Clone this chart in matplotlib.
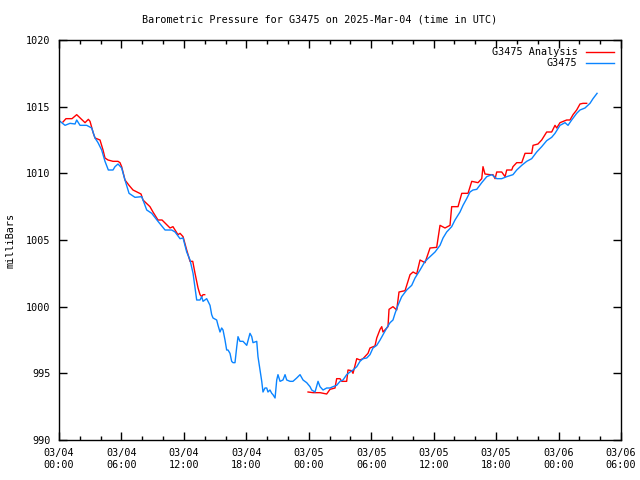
import matplotlib
matplotlib.use("Agg")
import matplotlib.pyplot as plt
import numpy as np
from matplotlib.ticker import MultipleLocator

# hours since 2025-03-04 00:00 UTC, pressure in mb
obs_hours = [0.1, 0.58, 1.06, 1.54, 1.7, 2.02, 2.66, 3.14, 3.46, 3.75, 4.1, 4.42, 4.74, 5.19, 5.38,
             5.67, 6.02, 6.34, 6.73, 7.3, 7.95, 8.43, 8.91, 9.51, 10.19, 10.83, 11.15, 11.63, 11.92,
             12.27, 12.59, 12.88, 13.07, 13.23, 13.55, 13.71, 13.84, 14.19, 14.51, 14.67, 14.8,
             15.15, 15.28, 15.47, 15.63, 15.76, 15.95, 16.11, 16.24, 16.43, 16.59, 16.72, 16.91,
             17.08, 17.2, 17.39, 17.68, 18.04, 18.35, 18.52, 18.64, 19.0, 19.12, 19.31, 19.48,
             19.6, 19.79, 19.96, 20.08, 20.27, 20.44, 20.56, 20.76, 20.92, 21.04, 21.24, 21.52,
             21.72, 21.88, 22.2, 22.48, 22.84, 23.16, 23.45, 23.8, 24.12, 24.28, 24.6, 24.89,
             25.08, 25.37, 25.72, 26.04, 26.33, 26.68, 27.0, 27.29, 27.64, 27.96, 28.25, 28.61,
             28.92, 29.21, 29.57, 29.88, 30.17, 30.53, 30.85, 31.13, 31.49, 31.81, 32.09, 32.29,
             32.57, 32.93, 33.41, 33.89, 34.21, 34.69, 35.17, 35.65, 36.13, 36.61, 36.9, 37.25,
             37.73, 38.05, 38.53, 38.82, 39.17, 39.49, 39.78, 40.14, 40.62, 41.1, 41.58, 42.06,
             42.54, 43.02, 43.62, 43.98, 44.46, 44.94, 45.42, 45.9, 46.38, 46.86, 47.34, 47.66,
             48.14, 48.62, 48.91, 49.26, 49.74, 50.06, 50.54, 51.02, 51.31, 51.7]
obs_mb = [1013.9, 1013.6, 1013.75, 1013.7, 1014.0, 1013.6, 1013.6, 1013.4, 1012.65, 1012.3, 1011.75,
          1010.9, 1010.25, 1010.25, 1010.5, 1010.7, 1010.4, 1009.5, 1008.5, 1008.2, 1008.25,
          1007.25, 1007.0, 1006.4, 1005.75, 1005.75, 1005.6, 1005.1, 1005.15, 1004.1, 1003.5,
          1002.5, 1001.4, 1000.5, 1000.5, 1000.75, 1000.4, 1000.6, 1000.1, 999.4, 999.15, 999.0,
          998.6, 998.1, 998.4, 998.25, 997.5, 996.75, 996.75, 996.5, 995.9, 995.8, 995.8, 997.0,
          997.75, 997.4, 997.4, 997.1, 998.0, 997.75, 997.3, 997.4, 996.25, 995.25, 994.4, 993.6,
          993.9, 993.9, 993.6, 993.75, 993.5, 993.4, 993.15, 994.5, 994.9, 994.4, 994.5, 994.9,
          994.5, 994.4, 994.4, 994.65, 994.9, 994.5, 994.3, 994.0, 993.75, 993.6, 994.4, 994.0,
          993.75, 993.9, 993.9, 994.0, 994.1, 994.4, 994.5, 994.9, 995.1, 995.25, 995.5, 995.9,
          996.1, 996.15, 996.4, 996.9, 997.1, 997.5, 997.9, 998.4, 998.8, 999.0, 999.5, 1000.1,
          1000.75, 1001.25, 1001.6, 1002.15, 1002.75, 1003.4, 1003.75, 1004.1, 1004.6, 1005.15,
          1005.6, 1006.0, 1006.5, 1007.1, 1007.6, 1008.1, 1008.6, 1008.75, 1008.8, 1009.3,
          1009.75, 1009.9, 1009.6, 1009.6, 1009.75, 1009.9, 1010.25, 1010.6, 1010.9, 1011.1,
          1011.6, 1012.0, 1012.45, 1012.7, 1013.0, 1013.6, 1013.8, 1013.6, 1014.0, 1014.5,
          1014.75, 1014.9, 1015.25, 1015.6, 1016.0]

# analysis series, NaN marks the gap with no analysis
ana_hours = [0.38, 0.67, 1.25, 1.7, 2.5, 2.82, 2.98, 3.3, 3.46, 3.94, 4.23, 4.42, 4.71, 5.19, 5.67,
             5.86, 6.02, 6.34, 6.73, 7.11, 7.88, 8.07, 8.74, 9.03, 9.51, 9.9, 10.67, 10.95, 11.43,
             11.63, 11.92, 12.27, 12.59, 12.85, 13.07, 13.36, 13.55, 13.71, 13.84, 14.0,
             18.0,
             23.93, 24.41, 25.08, 25.72, 26.04, 26.52, 26.68, 27.0, 27.16, 27.64, 27.77, 28.12,
             28.25, 28.61, 28.92, 29.21, 29.69, 29.88, 30.36, 30.53, 30.85, 31.01, 31.13, 31.61,
             31.71, 32.09, 32.45, 32.67, 33.25, 33.73, 34.02, 34.37, 34.69, 35.17, 35.65, 36.29,
             36.61, 37.09, 37.57, 37.73, 38.34, 38.7, 39.3, 39.66, 40.26, 40.62, 40.74, 40.93,
             41.41, 41.7, 41.9, 42.06, 42.54, 42.86, 43.02, 43.5, 43.62, 43.98, 44.46, 44.78,
             45.42, 45.55, 46.02, 46.38, 46.7, 46.86, 47.34, 47.66, 47.82, 48.14, 48.78, 49.1,
             49.39, 49.74, 50.06, 50.35, 50.7]
ana_mb = [1013.85, 1014.1, 1014.1, 1014.4, 1013.8, 1014.05, 1013.9, 1013.0, 1012.65, 1012.5,
          1011.75, 1011.15, 1011.0, 1010.9, 1010.9, 1010.8, 1010.5, 1009.5, 1009.1, 1008.75,
          1008.45, 1008.0, 1007.5, 1007.1, 1006.5, 1006.5, 1005.9, 1006.0, 1005.4, 1005.5,
          1005.25, 1004.25, 1003.4, 1003.4, 1002.5, 1001.4, 1000.9, 1000.75, 1000.9, 1000.9,
          np.nan,
          993.6, 993.55, 993.55, 993.45, 993.8, 993.9, 994.6, 994.6, 994.4, 994.4, 995.25, 995.2,
          995.0, 996.1, 996.0, 996.1, 996.5, 996.9, 997.05, 997.65, 998.3, 998.5, 998.1, 998.5,
          999.8, 1000.0, 999.75, 1001.1, 1001.2, 1002.4, 1002.6, 1002.45, 1003.5, 1003.3,
          1004.4, 1004.45, 1006.1, 1005.9, 1006.1, 1007.5, 1007.5, 1008.5, 1008.5, 1009.4,
          1009.3, 1009.6, 1010.5, 1009.95, 1009.9, 1009.9, 1009.6, 1010.1, 1010.1, 1009.75,
          1010.25, 1010.25, 1010.5, 1010.8, 1010.8, 1011.5, 1011.5, 1012.1, 1012.2, 1012.5,
          1012.9, 1013.1, 1013.1, 1013.6, 1013.4, 1013.8, 1014.0, 1014.0, 1014.4, 1014.75,
          1015.2, 1015.25, 1015.25]

tick_hours = [0, 6, 12, 18, 24, 30, 36, 42, 48, 54]
tick_labels = ["03/04\n00:00", "03/04\n06:00", "03/04\n12:00", "03/04\n18:00", "03/05\n00:00",
               "03/05\n06:00", "03/05\n12:00", "03/05\n18:00", "03/06\n00:00", "03/06\n06:00"]

plt.rcParams["font.family"] = "DejaVu Sans Mono"
plt.rcParams["font.size"] = 7.3

fig = plt.figure(figsize=(6.4, 4.8), dpi=100)
ax = fig.add_axes([59 / 640, 40 / 480, 562 / 640, 400 / 480])

ax.plot(ana_hours, ana_mb, color="#ff0000", lw=1, label="G3475 Analysis")
ax.plot(obs_hours, obs_mb, color="#0a84ff", lw=1, label="G3475")

ax.set_xlim(0, 54)
ax.set_ylim(990, 1020)
ax.set_xticks(tick_hours, tick_labels)
ax.xaxis.set_minor_locator(MultipleLocator(2))
ax.set_yticks(range(990, 1021, 5))
ax.tick_params(which="both", direction="in", top=True, right=True, width=1, pad=6)
ax.tick_params(which="major", length=6)
ax.tick_params(which="minor", length=3)
for s in ax.spines.values():
    s.set_linewidth(1)

fig.text(11 / 640, 0.5, "milliBars", rotation=90, ha="center", va="center")
fig.text(0.5, 1 - 20 / 480, "Barometric Pressure for G3475 on 2025-Mar-04 (time in UTC)",
         ha="center", va="center")

ax.legend(loc="upper right", frameon=False, markerfirst=False, handlelength=2.8,
          borderaxespad=0.3, labelspacing=0.1, handletextpad=0.8)

fig.savefig("out.png", dpi=100)
